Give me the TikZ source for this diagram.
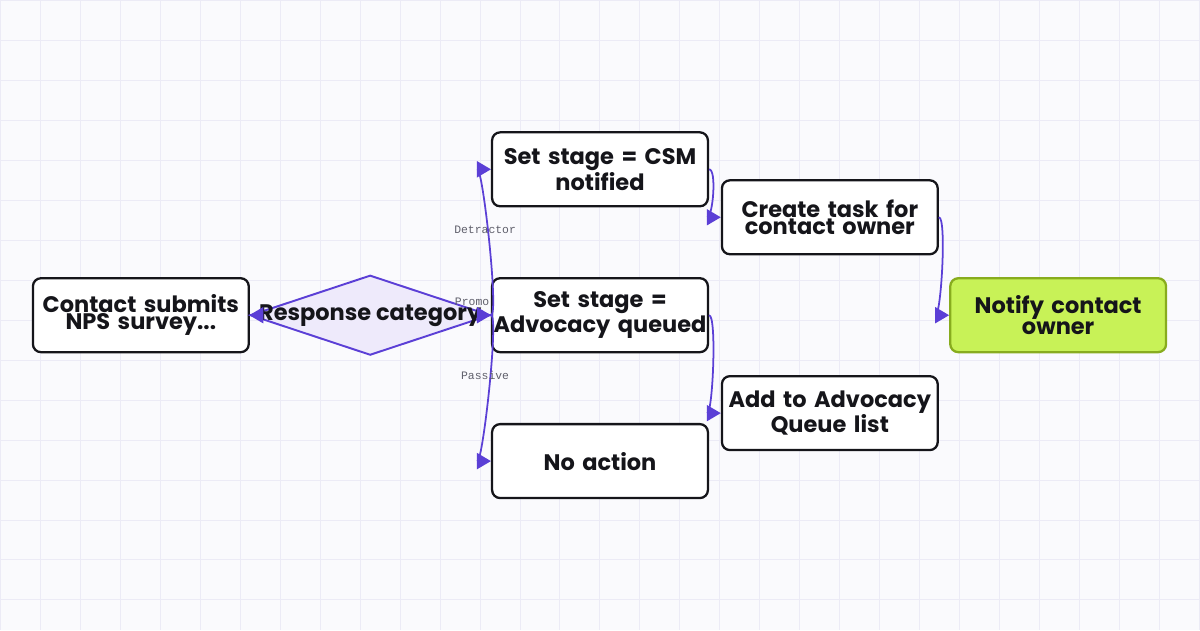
\documentclass[tikz,border=0pt]{standalone}
\usepackage{fontspec}
\setmainfont{Poppins}
\newfontfamily\labelfont{Liberation Mono}
\usetikzlibrary{arrows.meta, shapes.geometric, calc, positioning}
\definecolor{flowPurple}{HTML}{5B3FD6}
\definecolor{gridLine}{HTML}{ECEBF6}
\definecolor{paper}{HTML}{FAFAFD}
\definecolor{inkDark}{HTML}{15151A}
\definecolor{diamondFill}{HTML}{EEEAFB}
\definecolor{notifyFill}{HTML}{C8F257}
\definecolor{notifyEdge}{HTML}{88AC1E}
\definecolor{labelGray}{HTML}{5F5F6B}
\tikzset{
    stepBox/.style={rectangle, draw=inkDark, fill=white, line width=1.3pt, rounded corners=0.16cm,
        minimum width=4.32cm, minimum height=1.48cm, text width=4.3cm, inner sep=0pt, align=center,
        font=\fontsize{12.8}{9.5}\selectfont\bfseries, text=inkDark},
    endBox/.style={stepBox, draw=notifyEdge, fill=notifyFill},
    decision/.style={diamond, draw=flowPurple, fill=diamondFill, line width=1.1pt, aspect=3,
        minimum width=4.8cm, minimum height=1.6cm, inner sep=0pt},
    decisionText/.style={font=\fontsize{12.8}{9.5}\selectfont\bfseries, text=inkDark, inner sep=0pt},
    flowEdge/.style={-{Triangle[length=0.28cm, width=0.32cm]}, draw=flowPurple, line width=1pt},
    edgeTag/.style={font=\labelfont\fontsize{6.5}{7}\selectfont, text=labelGray, inner sep=1pt},
}
\newcommand{\flowLink}[2]{
    \draw[flowEdge] (#1.east) .. controls +(8,0) and +(-8,0) .. (#2.west);
}
\begin{document}
\begin{tikzpicture}[x=0.02cm, y=-0.02cm]
    % background grid
    \fill[paper] (0,0) rectangle (1200,630);
    \draw[gridLine, line width=0.5pt] (0,0) grid[step=0.8cm] (1200,630);
    \useasboundingbox (0,0) rectangle (1200,630);

    \node[stepBox] (submit) at (140.5, 315) {Contact submits\\NPS survey...};
    \node[decision] (category) at (370, 315) {};
    \node[decisionText] (categoryText) at (category.center) {Response category};
    \node[edgeTag] (tagPromo) at (472, 302) {Promo};
    \node[stepBox] (csm) at (600, 169) {Set stage = CSM\\notified};
    \node[stepBox] (advocacy) at (600, 315) {Set stage =\\Advocacy queued};
    \node[stepBox] (noaction) at (600, 461) {No action};
    \node[stepBox] (task) at (830, 217) {Create task for\\contact owner};
    \node[stepBox] (queue) at (830, 413) {Add to Advocacy\\Queue list};
    \node[endBox] (notify) at (1058.5, 315) {Notify contact\\owner};

    \draw[flowEdge] (submit.east) -- (category.west);
    \flowLink{category}{csm}
    \flowLink{category}{advocacy}
    \flowLink{category}{noaction}
    \flowLink{csm}{task}
    \flowLink{advocacy}{queue}
    \flowLink{task}{notify}

    \node[edgeTag] (tagDetractor) at (485, 229) {Detractor};
    \node[edgeTag] (tagPassive) at (485, 375) {Passive};
\end{tikzpicture}
\end{document}
